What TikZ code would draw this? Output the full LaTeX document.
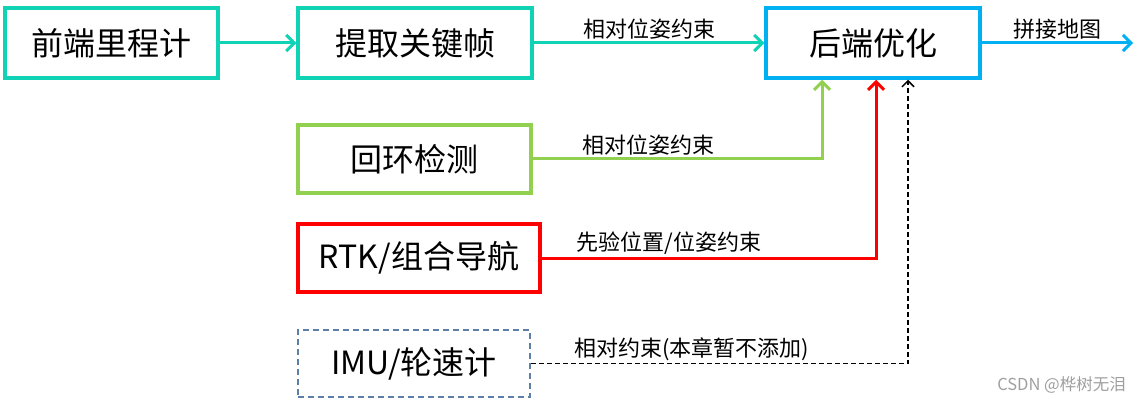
\documentclass[tikz,border=0pt]{standalone}
\usepackage{fontspec}
\setmainfont{Noto Sans CJK SC}
\usetikzlibrary{arrows.meta}
\definecolor{cteal}{HTML}{10D2B4}
\definecolor{cgreen}{HTML}{92D050}
\definecolor{cred}{HTML}{FF0000}
\definecolor{cblue}{HTML}{00B0F0}
\definecolor{cimu}{HTML}{5B7FA6}
\tikzset{
  box/.style={draw, line width=3.5pt, fill=white, inner sep=0pt, font=\fontsize{32}{38}\selectfont},
  lbl/.style={font=\fontsize{22}{26}\selectfont, inner sep=2pt},
  arr/.style={line width=3pt, -{Straight Barb[length=8pt,width=16pt,line width=3pt]}},
}
\begin{document}
\begin{tikzpicture}[x=1pt,y=-1pt]
\useasboundingbox (0,0) rectangle (1139,403);
\node[box, draw=cteal, minimum width=213pt, minimum height=70pt] (fe) at (111.5,43) {前端里程计};
\node[box, draw=cteal, minimum width=234pt, minimum height=70pt] (kf) at (415,43) {提取关键帧};
\node[box, draw=cblue, minimum width=214pt, minimum height=70pt] (be) at (873,43) {后端优化};
\node[box, draw=cgreen, minimum width=233pt, minimum height=68pt] (lc) at (414.5,159) {回环检测};
\node[box, draw=cred, minimum width=242pt, minimum height=68pt] (rtk) at (419,258) {RTK/组合导航};
\node[box, draw=cimu, line width=1.5pt, dash pattern=on 6pt off 4pt, minimum width=232pt, minimum height=67pt] (imu) at (414,363.5) {IMU/轮速计};
\coordinate (gx) at (822,0);
\coordinate (rx) at (876,0);
\coordinate (dx) at (908,0);
\coordinate (out) at (1133,43);
\draw[arr, cteal] (fe) -- (kf);
\draw[arr, cteal] (kf) -- node[lbl, above, text=black] {相对位姿约束} (be);
\draw[arr, cblue] (be.east) -- node[lbl, above, text=black] {拼接地图} (out);
\draw[arr, cgreen] (lc.east) -| node[lbl, above, text=black, pos=0.2] {相对位姿约束} (be.south -| gx);
\draw[arr, cred] (rtk.east) -| node[lbl, above, text=black, pos=0.19] {先验位置/位姿约束} (be.south -| rx);
\draw[line width=1.5pt, dash pattern=on 5pt off 3pt, -{Straight Barb[length=6pt,width=12pt,line width=1.5pt]}] (imu.east) -| node[lbl, above, pos=0.213] {相对约束(本章暂不添加)} (be.south -| dx);
\node[anchor=east, text=gray!75, font=\fontsize{16.5}{19}\selectfont, inner sep=0pt] (wm) at (1126,385) {CSDN @桦树无泪};
\end{tikzpicture}
\end{document}
